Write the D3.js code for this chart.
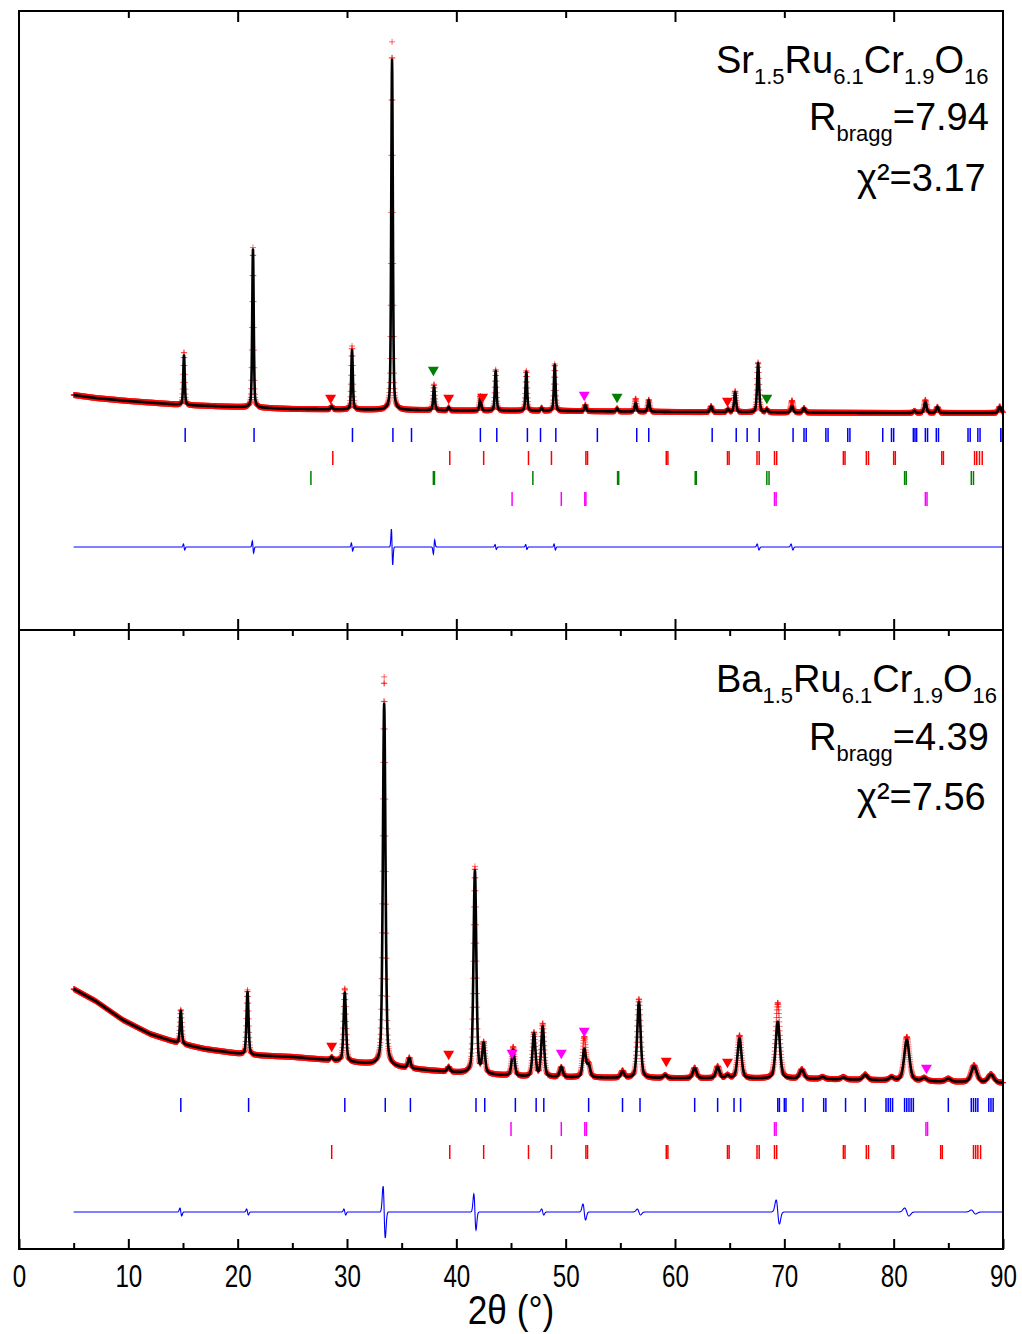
<!DOCTYPE html>
<html><head><meta charset="utf-8">
<script src="https://cdn.jsdelivr.net/npm/d3@7"></script>
<style>body{margin:0;background:#fff}svg{display:block}</style>
</head><body>
<svg id="chart" width="1022" height="1334"></svg>
<script>
// ================= DATA =================
const xTickValues = [0,10,20,30,40,50,60,70,80,90];
const xTickLabels = ["0","10","20","30","40","50","60","70","80","90"];
const xMinorValues = [5,15,25,35,45,55,65,75,85];
const topAxisMajor = [20,40,60,80];
const topAxisMinor = [10,30,50,70];

// ---- Sr1.5Ru6.1Cr1.9O16 (upper panel) ----
const srBackground = [[5,23500],[7,23200],[10,22900],[15,22500],[20,22300],[25,22100],[30,22050],[40,21950],[50,21900],[60,21800],[70,21750],[80,21700],[90,21700]];
// [2theta, calculated height, observed height, fwhm]
const srPeaks = [
 [15.09,5000,5300,0.16],[21.40,15800,16000,0.16],[28.6,300,350,0.18],[30.46,5950,6350,0.17],
 [34.12,35000,36800,0.17],[37.96,2400,2600,0.18],[39.3,300,300,0.18],[42.2,1350,1450,0.18],
 [43.6,3950,4100,0.18],[46.4,3900,4000,0.18],[47.8,300,300,0.18],[49.0,4600,4700,0.18],
 [51.8,600,650,0.19],[54.7,300,300,0.2],[56.4,850,1300,0.2],[57.6,1150,1200,0.2],
 [63.3,600,600,0.22],[64.85,300,300,0.22],[65.5,2000,2100,0.22],[67.6,4900,5000,0.22],
 [68.4,300,300,0.22],[70.7,650,1200,0.24],[71.8,450,450,0.24],[81.9,200,200,0.26],
 [82.9,1100,1300,0.26],[84.0,600,600,0.26],[89.7,600,650,0.28]
];
// difference features [2theta, amplitude, width]
const srDiffFeatures = [[15.1,300,0.06],[21.4,600,0.06],[30.46,400,0.06],[34.12,1800,0.06],[37.96,-700,0.06],[43.6,250,0.06],[46.4,250,0.06],[49.0,300,0.06],[67.6,300,0.08],[70.7,300,0.08]];
const srDiffOffset = 8300;
const srBlueTicks = [15.2,21.5,30.5,34.2,35.9,42.2,43.7,46.5,47.7,49.1,52.9,56.5,57.6,63.4,65.6,66.6,67.7,70.8,71.8,72.0,73.8,74.0,75.8,76.0,79.0,79.8,80.0,81.8,81.95,82.1,82.9,83.1,83.9,84.1,86.8,87.0,87.7,87.9,89.8,89.95];
const srRedTicks = [28.7,39.4,42.5,46.6,48.7,51.85,52.0,59.2,59.35,64.8,64.95,67.5,67.7,69.1,69.3,75.4,75.55,77.5,77.7,80.0,80.15,84.4,84.55,87.4,87.6,87.85,88.1];
const srGreenTicks = [26.7,37.9,38.0,47.0,54.75,54.85,61.85,61.95,68.4,68.6,81.0,81.15,87.1,87.3];
const srMagentaTicks = [45.1,49.6,51.75,51.85,69.1,69.25,82.9,83.05];
const srTickLevels = [19500,17200,15200,13100];
const srRedMarks = [[28.5,23200],[39.3,23200],[42.4,23300],[64.8,22900]];
const srGreenMarks = [[37.9,26000],[54.7,23300],[68.4,23200]];
const srMagentaMarks = [[51.7,23500]];

// ---- Ba1.5Ru6.1Cr1.9O16 (lower panel) ----
const baBackground = [[5,26000],[7,24800],[9.5,22900],[12,21500],[14.5,20600],[17,20000],[20.9,19400],[25,19200],[28.2,18900],[31,18600],[34.2,18200],[37,17900],[40.3,17600],[46.5,17200],[55,17100],[73,17000],[90,16600]];
const baPeaks = [
 [14.8,3300,3400,0.2],[20.9,6300,6500,0.22],[28.6,300,300,0.25],[29.8,6900,7300,0.26],
 [33.4,36200,38900,0.28],[35.7,1000,1050,0.28],[39.3,500,500,0.3],[41.7,20300,20700,0.3],
 [42.5,2900,3000,0.3],[45.2,2600,2900,0.32],[47.1,4300,4400,0.32],[47.9,5000,5300,0.32],
 [49.6,1000,1000,0.34],[51.7,2800,4000,0.34],[52.1,1200,1200,0.34],[55.2,600,700,0.36],
 [56.7,7600,7900,0.37],[59.1,300,300,0.38],[61.8,1000,1050,0.4],[63.9,1100,1200,0.4],
 [64.8,300,300,0.4],[65.9,4000,4300,0.42],[69.4,5700,7600,0.45],[71.6,900,950,0.46],
 [73.5,200,200,0.48],[75.4,200,250,0.48],[77.4,500,550,0.5],[79.8,300,300,0.5],
 [81.2,4100,4400,0.55],[82.8,300,300,0.55],[85.0,300,300,0.58],[87.35,1600,1700,0.6],[88.9,800,850,0.6]
];
const baDiffFeatures = [[14.8,400,0.08],[20.9,300,0.08],[29.8,300,0.08],[33.4,2600,0.1],[41.7,1800,0.1],[47.9,300,0.1],[51.7,800,0.12],[56.7,300,0.15],[69.4,1200,0.15],[81.2,400,0.2],[87.3,200,0.2]];
const baDiffOffset = 3700;
const baBlueTicks = [14.8,21.0,29.8,33.5,35.8,41.8,42.6,45.4,47.3,48.0,52.1,55.2,56.8,61.8,63.9,65.4,66.0,69.4,69.55,70.0,70.15,71.7,73.6,73.8,75.6,77.4,79.3,79.5,79.7,79.9,81.0,81.2,81.4,81.6,81.8,85.0,87.1,87.3,87.5,87.7,88.7,88.9,89.1];
const baMagentaTicks = [45.0,49.6,51.75,51.9,69.1,69.25,82.95,83.1];
const baRedTicks = [28.6,39.4,42.5,46.6,48.7,51.85,52.0,59.2,59.35,64.8,64.95,67.5,67.7,69.1,69.3,75.4,75.55,77.5,77.7,79.85,80.0,84.3,84.45,87.3,87.5,87.7,87.95];
const baTickLevels = [14400,12000,9700];
const baRedMarks = [[28.6,20300],[39.3,19500],[59.2,18800],[64.8,18700]];
const baMagentaMarks = [[45.1,19600],[49.6,19600],[51.7,21800],[83.0,18100]];

// ================= DRAWING =================
const svg = d3.select("#chart");
const FONT = "'Liberation Sans', Arial, sans-serif";
const x = d3.scaleLinear().domain([0,90]).range([19,1003]);
const ySr = d3.scaleLinear().domain([0,61800]).range([630,12]);
const yBa = d3.scaleLinear().domain([0,61900]).range([1249,630]);

const C = {blue:"#0000ff", red:"#ff0000", green:"#008000", magenta:"#ff00ff"};

function bgAt(bg, t){
  for(let i=0;i<bg.length-1;i++){
    if(t>=bg[i][0] && t<=bg[i+1][0]){
      const f=(t-bg[i][0])/(bg[i+1][0]-bg[i][0]);
      return bg[i][1]+f*(bg[i+1][1]-bg[i][1]);
    }
  }
  return bg[bg.length-1][1];
}
function pv(d,w){const t=4*d*d/(w*w);return 0.4/(1+t)+0.6*Math.exp(-Math.LN2*t);}
function dg(d,s){const u=d/s;return -u*Math.exp(0.5*(1-u*u));}

function profile(bg, peaks, diffF, diffOff){
  const out=[];
  for(let i=0;i<=4250;i++){
    const t=5+i*0.02;
    const b=bgAt(bg,t);
    let c=b,o=b;
    for(const p of peaks){const s=pv(t-p[0],p[3]);c+=p[1]*s;o+=p[2]*s;}
    let df=diffOff;
    for(const f of diffF){const d=t-f[0];if(Math.abs(d)<f[2]*6)df+=f[1]*dg(d,f[2]);}
    out.push({t,calc:c,obs:o,diff:df});
  }
  return out;
}

function drawPanel(y, bg, peaks, diffF, diffOff, tickSets, markSets){
  const data=profile(bg,peaks,diffF,diffOff);
  const g=svg.append("g");
  // observed crosses
  let p="";
  for(const d of data){const px=x(d.t),py=y(d.obs);p+=`M${(px-3).toFixed(2)},${py.toFixed(2)}h6M${px.toFixed(2)},${(py-3).toFixed(2)}v6`;}
  g.append("path").attr("d",p).attr("stroke",C.red).attr("stroke-width",0.7).attr("fill","none").attr("opacity",0.85);
  // calculated
  g.append("path").datum(data).attr("d",d3.line().x(d=>x(d.t)).y(d=>y(d.calc)))
    .attr("fill","none").attr("stroke","#000").attr("stroke-width",2.6).attr("stroke-linejoin","round");
  // difference
  g.append("path").datum(data).attr("d",d3.line().x(d=>x(d.t)).y(d=>y(d.diff)))
    .attr("fill","none").attr("stroke",C.blue).attr("stroke-width",1.1);
  // bragg ticks
  for(const ts of tickSets){
    g.append("g").selectAll("line").data(ts.pos).join("line")
      .attr("x1",d=>x(d)).attr("x2",d=>x(d))
      .attr("y1",y(ts.level)-7).attr("y2",y(ts.level)+7)
      .attr("stroke",ts.color).attr("stroke-width",1.5);
  }
  // triangle markers
  const tri=d3.symbol().type(d3.symbolTriangle).size(52);
  for(const ms of markSets){
    g.append("g").selectAll("path").data(ms.pts).join("path")
      .attr("d",tri).attr("transform",d=>`translate(${x(d[0])},${y(d[1])}) rotate(180)`)
      .attr("fill",ms.color);
  }
}

drawPanel(ySr, srBackground, srPeaks, srDiffFeatures, srDiffOffset,
  [{pos:srBlueTicks,level:srTickLevels[0],color:C.blue},{pos:srRedTicks,level:srTickLevels[1],color:C.red},
   {pos:srGreenTicks,level:srTickLevels[2],color:C.green},{pos:srMagentaTicks,level:srTickLevels[3],color:C.magenta}],
  [{pts:srRedMarks,color:C.red},{pts:srGreenMarks,color:C.green},{pts:srMagentaMarks,color:C.magenta}]);
drawPanel(yBa, baBackground, baPeaks, baDiffFeatures, baDiffOffset,
  [{pos:baBlueTicks,level:baTickLevels[0],color:C.blue},{pos:baMagentaTicks,level:baTickLevels[1],color:C.magenta},
   {pos:baRedTicks,level:baTickLevels[2],color:C.red}],
  [{pts:baRedMarks,color:C.red},{pts:baMagentaMarks,color:C.magenta}]);

// ---- axes & frame ----
function tickAxis(axisFn, vals, size, yPos){
  const a=svg.append("g").attr("transform",`translate(0,${yPos})`)
    .call(axisFn(x).tickValues(vals).tickSize(size).tickFormat(""));
  a.select(".domain").remove();
  a.selectAll("line").attr("stroke","#000").attr("stroke-width",2);
}
tickAxis(d3.axisBottom, topAxisMajor, 11, 11);
tickAxis(d3.axisBottom, topAxisMinor, 7, 11);
tickAxis(d3.axisTop, topAxisMajor, 11, 630);
tickAxis(d3.axisTop, topAxisMinor, 7, 630);
tickAxis(d3.axisBottom, xTickValues.slice(1,-1), 10, 630);
tickAxis(d3.axisBottom, xMinorValues, 6, 630);
tickAxis(d3.axisTop, xTickValues, 10, 1249);
tickAxis(d3.axisTop, xMinorValues, 6, 1249);

const lab=svg.append("g").attr("transform","translate(0,1249)")
  .call(d3.axisBottom(x).tickValues(xTickValues).tickSize(0).tickPadding(16).tickFormat((d,i)=>xTickLabels[i]));
lab.select(".domain").remove();
lab.selectAll("text").attr("font-family",FONT).attr("font-size",31).attr("fill","#000")
  .attr("transform","scale(0.78,1)");

svg.append("text").attr("x",0).attr("y",0)
  .attr("transform",`translate(${x(45)},1324) scale(0.88,1)`)
  .attr("text-anchor","middle").attr("font-family",FONT).attr("font-size",40).text("2θ (°)");

svg.append("rect").attr("x",19).attr("y",11).attr("width",984).attr("height",1238)
  .attr("fill","none").attr("stroke","#000").attr("stroke-width",2);
svg.append("line").attr("x1",19).attr("x2",1003).attr("y1",630).attr("y2",630)
  .attr("stroke","#000").attr("stroke-width",2);

// ---- annotations ----
function formula(xp, yp, parts){
  const t=svg.append("text").attr("x",xp).attr("y",yp).attr("font-family",FONT).attr("font-size",38).attr("fill","#000");
  let shift=0;
  for(const [s,sub] of parts){
    const ts=t.append("tspan").text(s);
    if(sub){ts.attr("font-size",22).attr("dy",11-shift);shift=11;}
    else {ts.attr("dy",-shift);shift=0;}
  }
}
formula(716,73,[["Sr",0],["1.5",1],["Ru",0],["6.1",1],["Cr",0],["1.9",1],["O",0],["16",1]]);
formula(809,130,[["R",0],["bragg",1],["=7.94",0]]);
formula(857,191,[["χ²=3.17",0]]);
formula(716,692,[["Ba",0],["1.5",1],["Ru",0],["6.1",1],["Cr",0],["1.9",1],["O",0],["16",1]]);
formula(809,750,[["R",0],["bragg",1],["=4.39",0]]);
formula(857,810,[["χ²=7.56",0]]);
</script>
</body></html>
